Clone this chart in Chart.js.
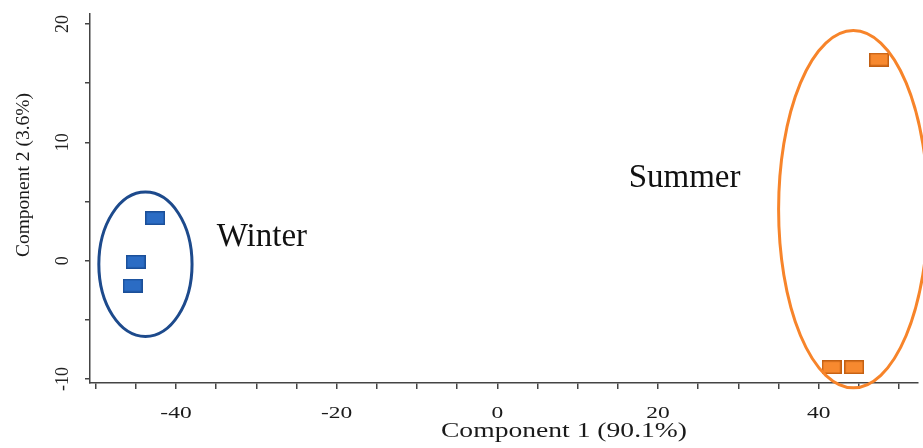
<!DOCTYPE html>
<html>
<head>
<meta charset="utf-8">
<script src="https://cdn.jsdelivr.net/npm/chart.js@4"></script>
<style>
  html, body { margin: 0; padding: 0; background: #fff; }
  canvas { display: block; }
</style>
</head>
<body>
<canvas id="myChart" width="923" height="448"></canvas>
<script>
// scores (component 1, component 2)
const winterX = [-42.6, -45.0, -45.4];
const winterY = [3.6, -0.1, -2.1];
const summerX = [47.5, 41.6, 44.4];
const summerY = [17.0, -9.0, -9.0];

// group ellipses: centre x, centre y, radius x, radius y (data units)
const groupNames = ["Winter", "Summer"];
const ellipseCx = [-43.8, 44.3];
const ellipseCy = [-0.3, 4.35];
const ellipseRx = [5.8, 9.3];
const ellipseRy = [6.1, 15.1];
// where the group names sit (data units, text baseline)
const labelX = [-29.3, 23.3];
const labelY = [1.2, 6.2];

const xTitle = "Component 1 (90.1%)";
const yTitle = "Component 2 (3.6%)";

const groupColors = ["#1d4a8c", "#f7842a"];
const serif = "'Liberation Serif', 'Times New Roman', serif";
const stretch = 1.38; // the x axis text in the picture is drawn wide

function boxMarker(fill, stroke) {
  const c = document.createElement("canvas");
  c.width = 20;
  c.height = 14;
  const g = c.getContext("2d");
  g.fillStyle = fill;
  g.fillRect(0, 0, 20, 14);
  g.strokeStyle = stroke;
  g.lineWidth = 1.5;
  g.strokeRect(0.75, 0.75, 18.5, 12.5);
  return c;
}

const groupsPlugin = {
  id: "groups",
  afterDatasetsDraw(chart) {
    const ctx = chart.ctx;
    const xs = chart.scales.x;
    const ys = chart.scales.y;
    ctx.save();
    for (let i = 0; i < groupNames.length; i++) {
      const cx = xs.getPixelForValue(ellipseCx[i]);
      const cy = ys.getPixelForValue(ellipseCy[i]);
      const rx = Math.abs(xs.getPixelForValue(ellipseCx[i] + ellipseRx[i]) - cx);
      const ry = Math.abs(ys.getPixelForValue(ellipseCy[i] + ellipseRy[i]) - cy);
      ctx.beginPath();
      ctx.ellipse(cx, cy, rx, ry, 0, 0, Math.PI * 2);
      ctx.strokeStyle = groupColors[i];
      ctx.lineWidth = 3;
      ctx.stroke();

      ctx.fillStyle = "#111";
      ctx.font = "33px " + serif;
      ctx.textAlign = "center";
      ctx.textBaseline = "alphabetic";
      ctx.fillText(groupNames[i], xs.getPixelForValue(labelX[i]), ys.getPixelForValue(labelY[i]));
    }
    ctx.restore();
  },
  afterDraw(chart) {
    // x tick labels and axis titles, taken from the scales
    const ctx = chart.ctx;
    const xs = chart.scales.x;
    ctx.save();
    ctx.fillStyle = "#1a1a1a";
    ctx.textAlign = "center";
    ctx.textBaseline = "alphabetic";
    ctx.font = "17px " + serif;
    xs.ticks.forEach((t) => {
      if (t.value % 20 !== 0) return;
      ctx.save();
      ctx.translate(xs.getPixelForValue(t.value), xs.top + 35);
      ctx.scale(stretch, 1);
      ctx.fillText(String(t.value), 0, 0);
      ctx.restore();
    });

    ctx.font = "20px " + serif;
    ctx.save();
    ctx.translate(564, xs.top + 54);
    ctx.scale(stretch, 1);
    ctx.fillText(xTitle, 0, 0);
    ctx.restore();

    ctx.font = "19.5px " + serif;
    ctx.textBaseline = "middle";
    ctx.translate(24, 175);
    ctx.rotate(-Math.PI / 2);
    ctx.fillText(yTitle, 0, 0);
    ctx.restore();
  },
};

const toPoints = (xs, ys) => xs.map((x, i) => ({ x: x, y: ys[i] }));

chart = new Chart("myChart", {
  type: "scatter",
  data: {
    datasets: [
      {
        label: "Winter",
        data: toPoints(winterX, winterY),
        pointStyle: boxMarker("#2b6cc4", "#1b4f98"),
      },
      {
        label: "Summer",
        data: toPoints(summerX, summerY),
        pointStyle: boxMarker("#f7892f", "#c25f12"),
      },
    ],
  },
  options: {
    responsive: false,
    animation: false,
    layout: { padding: { top: 14, right: 0, left: 0, bottom: 0 } },
    plugins: {
      legend: { display: false },
      tooltip: { enabled: false },
    },
    scales: {
      x: {
        type: "linear",
        min: -50.7,
        max: 52.35,
        border: { display: true, color: "#444", width: 1.5 },
        grid: { drawOnChartArea: false, drawTicks: true, tickLength: 6, color: "#444", lineWidth: 1.5 },
        ticks: {
          stepSize: 5,
          includeBounds: false,
          autoSkip: false,
          maxRotation: 0,
          callback: () => "",
        },
        afterFit: (scale) => {
          scale.height = 65;
          scale.paddingLeft = 0;
          scale.paddingRight = 0;
        },
      },
      y: {
        type: "linear",
        min: -10.34,
        max: 20.85,
        border: { display: true, color: "#444", width: 1.5 },
        grid: { drawOnChartArea: false, drawTicks: true, tickLength: 5, color: "#444", lineWidth: 1.5 },
        ticks: {
          stepSize: 5,
          includeBounds: false,
          autoSkip: false,
          minRotation: 90,
          maxRotation: 90,
          crossAlign: "center",
          padding: 10,
          color: "#222",
          font: { family: serif, size: 18 },
          callback: (v) => (v % 10 === 0 ? v : ""),
        },
        afterFit: (scale) => {
          scale.width = 90;
          scale.paddingTop = 0;
          scale.paddingBottom = 0;
        },
      },
    },
  },
  plugins: [groupsPlugin],
});
</script>
</body>
</html>
